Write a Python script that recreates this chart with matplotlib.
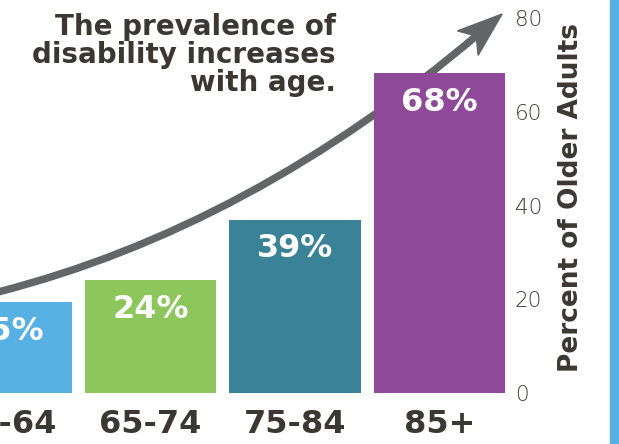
import matplotlib
matplotlib.use("Agg")
import matplotlib.pyplot as plt
from matplotlib.patches import PathPatch, Polygon, Rectangle
from matplotlib.path import Path
import numpy as np

# data
categories = ["45-64", "65-74", "75-84", "85+"]
labels = ["15%", "24%", "39%", "68%"]
heights = [19.4, 24.1, 37.0, 68.2]
colors = ["#56b0e4", "#8dc75b", "#3a8297", "#8e4a99"]
y_ticks = [0, 20, 40, 60, 80]

DARK = "#3b3834"
GRAY = "#646567"
HEAVY = dict(family="DejaVu Sans", weight="bold")

W, H = 619, 444
fig = plt.figure(figsize=(W / 100, H / 100), dpi=100)
ax = fig.add_axes([0, 51 / H, 505 / W, 375 / H])

x = np.arange(len(categories))
ax.bar(x, heights, width=0.907, color=colors, zorder=2)
ax.set_xlim(-0.0415, 3.453)
ax.set_ylim(0, 80)

for s in ax.spines.values():
    s.set_visible(False)
ax.set_xticks([])
ax.yaxis.tick_right()
ax.set_yticks(y_ticks)
ax.tick_params(axis="y", length=0, pad=7, labelsize=15.5, labelcolor="#3f3c38")
for t in ax.get_yticklabels():
    t.set_family("DejaVu Sans")
    t.set_weight("light")

for xi, h, lab in zip(x, heights, labels):
    ax.annotate(lab, (xi, h), xytext=(0, -21), textcoords="offset points",
                ha="center", va="center", color="white", fontsize=23, zorder=3,
                **HEAVY)

for xi, cat in zip(x, categories):
    ax.annotate(cat, (xi, 0), xytext=(0, -23), textcoords="offset points",
                ha="center", va="center", color=DARK, fontsize=23,
                annotation_clip=False, **HEAVY)

fig.text(336 / W, 1 - 13 / H, "The prevalence of\ndisability increases\nwith age.",
         ha="right", va="top", color=DARK, fontsize=20, linespacing=1.01, **HEAVY)

fig.text(571 / W, 1 - 197 / H, "Percent of Older Adults", rotation=90,
         ha="center", va="center", color=DARK, fontsize=19, **HEAVY)

# blue strip on the right edge
fig.patches.append(Rectangle((610 / W, 0), 9 / W, 1, transform=fig.transFigure,
                             color="#56b0e4", zorder=0))

# curved trend arrow (quadratic bezier, display coords)
pts = ax.transData.transform([(-0.06, 21.5), (1.69, 35.3), (3.433, 80.85)])
p0, c, tip = pts
d = tip - c
d = d / np.hypot(*d)
perp = np.array([-d[1], d[0]])
notch = tip - 34 * d
end = tip - 30 * d
curve = Path([p0, c, end], [Path.MOVETO, Path.CURVE3, Path.CURVE3])
ax.add_patch(PathPatch(curve, transform=None, fill=False, edgecolor=GRAY,
                       lw=5.4, capstyle="butt", clip_on=False, zorder=1))
head = [tip, tip - 45 * d + 16 * perp, notch, tip - 45 * d - 16 * perp]
ax.add_patch(Polygon(head, closed=True, transform=None, color=GRAY,
                     clip_on=False, zorder=1))

fig.savefig("out.png", dpi=100)
